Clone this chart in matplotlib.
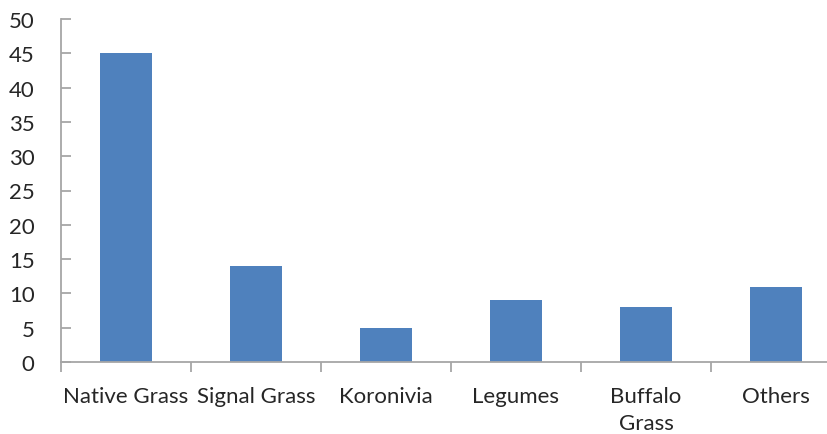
import matplotlib
matplotlib.use("Agg")
import matplotlib.pyplot as plt
import numpy as np

categories = ["Native Grass", "Signal Grass", "Koronivia", "Legumes", "Buffalo\nGrass", "Others"]
values = [45, 14, 5, 9, 8, 11]
y_ticks = [0, 5, 10, 15, 20, 25, 30, 35, 40, 45, 50]

BAR_COLOR = "#4F81BD"
AXIS_COLOR = "#A6A6A6"
TEXT_COLOR = "#262626"

plt.rcParams["font.family"] = ["Lato", "DejaVu Sans"]

fig = plt.figure(figsize=(8.28, 4.35), dpi=100)
# right edge of the plot area runs past the figure, as in the reference
ax = fig.add_axes([61 / 828, 72 / 435, 780 / 828, 343 / 435])

x = np.arange(len(categories))
ax.bar(x, values, width=0.4, color=BAR_COLOR, zorder=2)

ax.set_xlim(-0.5, len(categories) - 0.5)
ax.set_ylim(0, 50)

# category labels on minor ticks, boundary tick marks on major ticks
ax.set_xticks(np.arange(-0.5, len(categories), 1.0))
ax.set_xticklabels([])
ax.set_xticks(x, minor=True)
ax.set_xticklabels(categories, minor=True, fontsize=16, color=TEXT_COLOR,
                   linespacing=1.45, va="top")
ax.tick_params(axis="x", which="major", direction="out", length=7,
               width=1.3, color=AXIS_COLOR)
ax.tick_params(axis="x", which="minor", length=0, pad=17)

ax.set_yticks(y_ticks)
ax.set_yticklabels([str(v) for v in y_ticks], fontsize=16, color=TEXT_COLOR)
ax.tick_params(axis="y", direction="in", length=7, width=1.3,
               color=AXIS_COLOR, pad=19)

for side in ("top", "right"):
    ax.spines[side].set_visible(False)
for side in ("left", "bottom"):
    ax.spines[side].set_color(AXIS_COLOR)
    ax.spines[side].set_linewidth(1.3)

fig.savefig("out.png", dpi=100)
